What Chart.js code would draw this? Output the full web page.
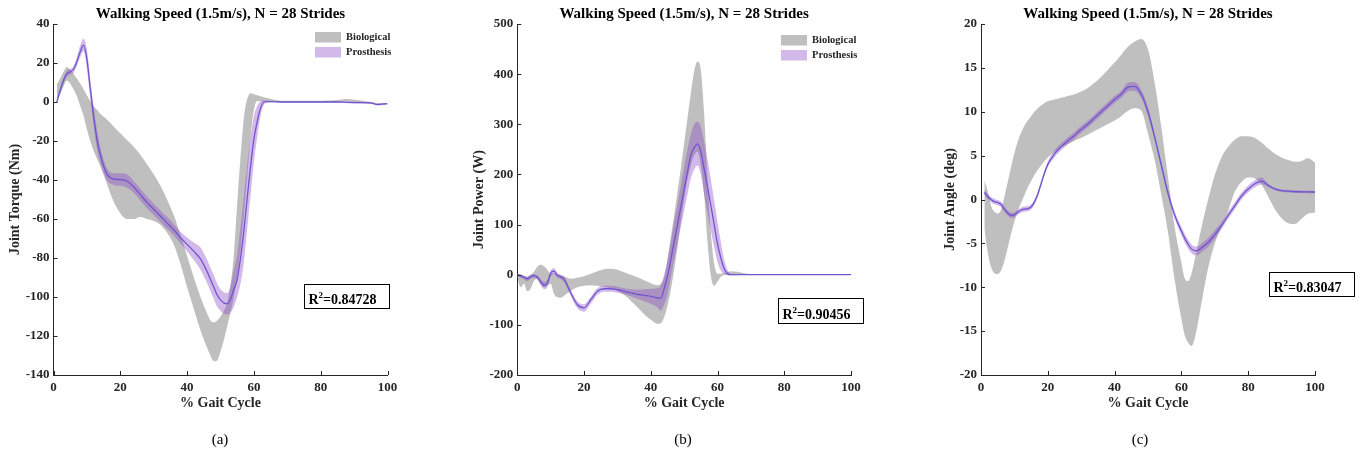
<!DOCTYPE html>
<html>
<head>
<meta charset="utf-8">
<script src="https://cdn.jsdelivr.net/npm/chart.js@4.4.1/dist/chart.umd.min.js"></script>
<style>
  body { margin: 0; background: #fff; width: 1362px; height: 457px; overflow: hidden; position: relative; }
  canvas { position: absolute; top: 0; }
</style>
</head>
<body>
<canvas id="torque" width="460" height="457" style="left:0px;width:460px;height:457px"></canvas>
<canvas id="power" width="460" height="457" style="left:460px;width:460px;height:457px"></canvas>
<canvas id="angle" width="442" height="457" style="left:920px;width:442px;height:457px"></canvas>
<script>
// ---- data (% gait cycle on x) ----

// (a) joint torque (Nm)
const torqueX = [1,2,3,4,5,6,7,8,9,10,11,12,13,14,16,18,20,22,24,26,28,30,32,34,36,38,40,42,44,46,47,48,49,50,51,52,53,54,55,56,57,58,59,60,61,62,63,64,66,68,70,75,80,85,88,90,95,97,100];
const torqueBioUpper = [9,12,15.5,18,16.5,14.5,12,9.5,6.5,3.5,0.5,-2,-4,-6,-9,-12.5,-16,-19.5,-23,-27,-32,-37,-43,-50,-58,-68,-79,-90,-100,-108.5,-112,-113,-112,-110,-107,-103,-94,-78,-52,-28,-8,1.5,4.5,4,3.5,3,2.5,2,1.2,0.7,0.6,0.6,0.7,1,1.5,1.2,0,-0.7,-0.7];
const torqueBioLower = [1,4,8,11,9.5,6.5,3,-2,-7,-14,-20,-25,-29,-33,-42,-51,-57,-60,-60,-59,-60,-61,-63,-67,-73,-83,-95,-106,-117,-126,-130,-133,-132.5,-128,-122,-115,-108,-100,-90,-76,-58,-38,-18,-4,0.5,0.5,0.3,0.2,0,0,0,0,0,0,0.3,0,-0.8,-1.6,-1.2];
const torqueProMean = [0,6,11,14.5,15.5,16.8,20.7,25.8,29.2,22,7,-7,-19,-27,-37,-39.5,-39.8,-40.5,-43.5,-47.5,-51.5,-55,-58.5,-62,-65.5,-69.5,-73,-76.5,-80.5,-87,-91,-95,-99,-101.5,-103,-103.5,-101,-96,-91,-80,-66,-49,-33,-19,-10,-3,0,0.2,0.2,0,0,0,0,0,-0.2,-0.3,-0.5,-1.3,-0.8];
const torqueProUpper = [1,7.5,12.5,16,17,18.5,23,29,32.5,27,12,-2,-14,-23,-34,-36.5,-36.5,-37,-40.5,-44.5,-48.5,-52,-55.5,-59,-62.5,-66.5,-69.5,-72,-74.5,-81,-85,-89,-93,-96,-97.5,-98,-94,-86,-78,-64,-48,-32,-18,-7,-2,0.5,0.8,0.7,0.5,0.3,0.3,0.3,0.3,0.3,0.2,0.1,-0.1,-0.8,-0.4];
const torqueProLower = [-1,4.5,9.5,13,14,15,18.5,23,26,17,2,-12,-24,-31,-40,-42.5,-43,-44,-46.5,-50.5,-54.5,-58,-61.5,-65,-68.5,-72.5,-76.5,-81,-86,-93,-97,-101,-105,-107,-108.5,-109,-108,-105,-100,-93,-82,-65,-48,-31,-18,-7,-1.5,-0.3,-0.1,-0.3,-0.3,-0.3,-0.3,-0.3,-0.6,-0.7,-0.9,-1.8,-1.2];

// (b) joint power (W)
const powerX = [0,1,2,3,4,5,6,7,8,9,10,11,12,13,14,16,18,20,22,24,26,28,30,32,34,36,38,40,42,43,44,45,46,47,48,49,50,51,52,53,54,55,56,57,58,59,60,61,62,63,64,66,68,70,75,80,90,100];
const powerBioUpper = [3,0,-2,-4,0,6,16,20,17,10,2,3,1,-1,-3,-8,-6,-3,2,7,11,12,10,5,0,-5,-11,-17,-21,-18,-5,30,75,118,165,212,262,312,362,405,425,408,320,190,85,22,2,2,3,5,7,6,3,1,0.5,0.5,0.5,0.5];
const powerBioLower = [-5,-25,-18,-33,-28,-12,-8,-18,-25,-22,-18,-38,-45,-46,-42,-32,-25,-22,-21,-22,-24,-27,-32,-40,-52,-65,-79,-90,-98,-97,-85,-62,-30,10,55,105,150,190,218,238,245,218,160,65,-2,-22,-14,-4,0,0.5,1,1,0,-0.5,-0.5,-0.5,-0.5,-0.5];
const powerProMean = [0,-2,-5,-8,-4,-2,-5,-14,-21,-17,3,7,-1,-4,-9,-36,-60,-66,-50,-33,-28,-28,-30,-33,-36,-39,-41,-43,-46,-47,-28,-3,30,65,100,135,170,205,238,253,261,245,210,175,138,100,62,33,12,2,0,0,0,0,0,0,0,0];
const powerProUpper = [2,1,-2,-4,0,1,-1,-8,-14,-10,9,13,4,0,-4,-30,-53,-59,-44,-27,-22,-22,-24,-27,-29,-30,-29,-28,-27,-22,0,30,65,105,140,178,215,250,280,300,305,295,265,230,190,148,105,65,30,10,2,1,0.5,0.5,0.5,0.5,0.5,0.5];
const powerProLower = [-2,-6,-9,-13,-8,-6,-10,-21,-29,-25,-4,1,-6,-9,-15,-42,-67,-74,-58,-40,-34,-34,-36,-39,-43,-48,-53,-58,-65,-72,-60,-40,-5,30,62,95,128,160,192,210,218,200,160,122,88,55,25,8,1,-1,-1,-0.5,-0.5,-0.5,-0.5,-0.5,-0.5,-0.5];

// (c) joint angle (deg)
const angleX = [1,2,3,4,5,6,7,8,9,10,11,12,13,14,15,16,17,18,19,20,22,24,26,28,30,32,34,36,38,40,42,44,46,48,50,52,54,56,58,60,61,62,63,64,65,66,68,70,72,74,76,78,80,82,84,86,88,90,92,94,96,98,100];
const angleBioUpper = [2.2,1.0,-0.7,-1.4,-1.6,-1.2,0.3,2.0,3.7,5.3,6.6,7.6,8.4,9.0,9.5,10.0,10.4,10.7,11.0,11.2,11.4,11.6,11.8,12.0,12.3,12.7,13.3,14.0,14.8,15.6,16.5,17.4,18.0,18.3,17.1,13.3,8.2,2.5,-3.2,-7.2,-9.0,-9.3,-8.5,-6.8,-5.0,-3.2,0,2.8,4.8,6.0,6.8,7.2,7.2,7.0,6.5,5.8,5.2,4.8,4.5,4.3,4.4,4.7,4.2];
const angleBioLower = [-3.3,-6.0,-7.7,-8.4,-8.5,-8.1,-7.0,-5.5,-3.9,-2.5,-1.3,-0.4,0.5,1.4,2.1,2.8,3.4,3.9,4.4,4.8,5.4,5.9,6.3,6.7,7.0,7.4,7.8,8.2,8.6,9.0,9.5,10.1,10.4,10.1,7.5,4.5,0.5,-3.8,-9.2,-13.6,-15.5,-16.3,-16.7,-15.8,-14.0,-11.8,-7.8,-5.0,-3.1,-1.3,0.9,2.0,2.5,2.4,1.7,0.3,-1.1,-2.1,-2.7,-2.8,-2.2,-1.6,-1.5];
const angleProMean = [0.8,0.35,0,-0.25,-0.35,-0.55,-1.1,-1.55,-1.8,-1.75,-1.45,-1.2,-1.1,-1.05,-0.85,-0.3,0.6,1.8,3.0,4.0,5.2,6.0,6.7,7.3,8.0,8.6,9.3,10.0,10.7,11.4,12.0,12.8,12.9,12.0,10.0,7.1,3.9,0.7,-1.8,-3.6,-4.4,-5.1,-5.6,-5.85,-5.8,-5.5,-4.9,-4.0,-3.0,-1.8,-0.7,0.4,1.2,1.8,2.1,1.6,1.2,1.0,0.95,0.9,0.88,0.86,0.85];
const angleProUpper = [1.1,0.65,0.3,0.05,-0.05,-0.25,-0.8,-1.25,-1.5,-1.45,-1.15,-0.9,-0.8,-0.75,-0.55,0,0.9,2.1,3.3,4.3,5.6,6.4,7.1,7.7,8.4,9.0,9.7,10.4,11.1,11.8,12.4,13.3,13.4,12.5,10.5,7.5,4.3,1.1,-1.4,-3.1,-3.9,-4.6,-5.1,-5.35,-5.3,-5.0,-4.4,-3.5,-2.6,-1.4,-0.3,0.8,1.6,2.2,2.5,1.8,1.35,1.15,1.1,1.05,1.03,1.01,1.0];
const angleProLower = [0.5,0.05,-0.3,-0.55,-0.65,-0.85,-1.4,-1.85,-2.1,-2.05,-1.75,-1.5,-1.4,-1.35,-1.15,-0.6,0.3,1.5,2.7,3.7,4.8,5.6,6.3,6.9,7.6,8.2,8.9,9.6,10.3,11.0,11.6,12.3,12.4,11.5,9.5,6.7,3.5,0.3,-2.2,-4.1,-4.9,-5.6,-6.1,-6.35,-6.3,-6.0,-5.4,-4.5,-3.4,-2.2,-1.1,0.0,0.8,1.4,1.7,1.4,1.05,0.85,0.8,0.75,0.73,0.71,0.7];

// ---- styling ----
const FONT = 'Liberation Serif';
const AXIS = '#262626';
const BIO_FILL = 'rgba(128,128,128,0.5)';
const PRO_FILL = 'rgba(140,70,200,0.38)';
const PRO_LINE = '#6f55d0';
const CLEAR = 'rgba(0,0,0,0)';

function pts(xs, ys) {
    return xs.map((x, i) => ({ x: x, y: ys[i] }));
}

// axis ticks pointing inward, title, legend, R^2 box and caption
const panelDeco = {
    id: 'panelDeco',
    afterDraw(chart, args, o) {
        const ctx = chart.ctx;
        const a = chart.chartArea;
        const sx = chart.scales.x, sy = chart.scales.y;
        ctx.save();
        ctx.strokeStyle = AXIS;
        ctx.lineWidth = 1;
        ctx.beginPath();
        sx.ticks.forEach(t => {
            const p = Math.round(sx.getPixelForValue(t.value)) + 0.5;
            ctx.moveTo(p, a.bottom);
            ctx.lineTo(p, a.bottom - 4);
        });
        sy.ticks.forEach(t => {
            const p = Math.round(sy.getPixelForValue(t.value)) + 0.5;
            ctx.moveTo(a.left, p);
            ctx.lineTo(a.left + 4, p);
        });
        ctx.stroke();

        ctx.fillStyle = '#000';
        ctx.textAlign = 'center';
        ctx.textBaseline = 'middle';
        ctx.font = 'bold 15px ' + FONT;
        ctx.fillText(o.title, (a.left + a.right) / 2, 14);
        ctx.font = '15px ' + FONT;
        ctx.fillText(o.caption, o.captionX, 440);

        if (o.legend) {
            const lx = a.left + o.legend[0], ly = a.top + o.legend[1];
            ctx.textAlign = 'left';
            ctx.font = 'bold 10.5px ' + FONT;
            [['Biological', BIO_FILL], ['Prosthesis', PRO_FILL]].forEach((item, i) => {
                const y = ly + i * 15;
                ctx.fillStyle = item[1];
                ctx.fillRect(lx, y, 26, 10.5);
                ctx.fillStyle = AXIS;
                ctx.fillText(item[0], lx + 31, y + 5.5);
            });
        }

        const b = o.r2box;
        const x0 = Math.round(sx.getPixelForValue(b[0])) + 0.5;
        const x1 = Math.round(sx.getPixelForValue(b[1])) + 0.5;
        const y0 = Math.round(sy.getPixelForValue(b[2])) + 0.5;
        const y1 = Math.round(sy.getPixelForValue(b[3])) + 0.5;
        ctx.fillStyle = '#fff';
        ctx.fillRect(x0, y0, x1 - x0, y1 - y0);
        ctx.strokeStyle = '#000';
        ctx.strokeRect(x0, y0, x1 - x0, y1 - y0);
        ctx.fillStyle = '#000';
        ctx.textAlign = 'left';
        ctx.textBaseline = 'alphabetic';
        let tx = x0 + 4;
        const base = y1 - 5;
        ctx.font = 'bold 14px ' + FONT;
        ctx.fillText('R', tx, base);
        tx += ctx.measureText('R').width;
        ctx.font = 'bold 9px ' + FONT;
        ctx.fillText('2', tx, base - 6);
        tx += ctx.measureText('2').width;
        ctx.font = 'bold 14px ' + FONT;
        ctx.fillText('=' + o.r2, tx, base);
        ctx.restore();
    }
};

function makePanel(id, xs, bioLo, bioUp, proLo, proUp, proMean, cfg) {
    const tickFont = { family: FONT, size: 13, weight: 'bold' };
    const labelFont = { family: FONT, size: 14, weight: 'bold' };
    new Chart(document.getElementById(id), {
        type: 'line',
        data: {
            datasets: [
                { data: pts(xs, bioLo), borderColor: CLEAR, borderWidth: 0, pointRadius: 0, fill: false, order: 3 },
                { data: pts(xs, bioUp), borderColor: CLEAR, borderWidth: 0, pointRadius: 0, fill: '-1', backgroundColor: BIO_FILL, order: 3 },
                { data: pts(xs, proLo), borderColor: CLEAR, borderWidth: 0, pointRadius: 0, fill: false, order: 2 },
                { data: pts(xs, proUp), borderColor: CLEAR, borderWidth: 0, pointRadius: 0, fill: '-1', backgroundColor: PRO_FILL, order: 2 },
                { data: pts(xs, proMean), borderColor: PRO_LINE, borderWidth: 1.3, pointRadius: 0, fill: false, order: 1 },
            ],
        },
        options: {
            responsive: false,
            animation: false,
            devicePixelRatio: 1,
            cubicInterpolationMode: 'monotone',
            layout: { padding: { left: 0, right: cfg.padRight, top: 24, bottom: 40 } },
            plugins: {
                legend: { display: false },
                tooltip: { enabled: false },
                panelDeco: cfg.deco,
            },
            scales: {
                x: {
                    type: 'linear',
                    min: 0,
                    max: 100,
                    grid: { display: false, drawTicks: false },
                    border: { display: true, color: AXIS, width: 1 },
                    ticks: { stepSize: 20, padding: 5, font: tickFont, color: AXIS, maxRotation: 0 },
                    title: { display: true, text: '% Gait Cycle', font: labelFont, color: AXIS, padding: { top: 0, bottom: 5.6 } },
                    afterFit: s => { s.height = 42; },
                },
                y: {
                    type: 'linear',
                    min: cfg.yMin,
                    max: cfg.yMax,
                    grid: { display: false, drawTicks: false },
                    border: { display: true, color: AXIS, width: 1 },
                    ticks: { stepSize: cfg.yStep, padding: 4, font: tickFont, color: AXIS },
                    title: { display: true, text: cfg.yTitle, font: labelFont, color: AXIS, padding: { top: cfg.yTitlePad, bottom: 0 } },
                    afterFit: s => { s.width = cfg.yWidth; },
                },
            },
        },
        plugins: [panelDeco],
    });
}

const TITLE = 'Walking Speed (1.5m/s), N = 28 Strides';

makePanel('torque', torqueX, torqueBioLower, torqueBioUpper, torqueProLower, torqueProUpper, torqueProMean, {
    yMin: -140, yMax: 40, yStep: 20, yTitle: 'Joint Torque (Nm)',
    yWidth: 53.5, yTitlePad: 6.6, padRight: 72.5,
    deco: { title: TITLE, caption: '(a)', captionX: 220, legend: [261.5, 8], r2: '0.84728', r2box: [75, 100.5, -93.3, -105.6] },
});

makePanel('power', powerX, powerBioLower, powerBioUpper, powerProLower, powerProUpper, powerProMean, {
    yMin: -200, yMax: 500, yStep: 100, yTitle: 'Joint Power (W)',
    yWidth: 57.3, yTitlePad: 10.6, padRight: 69,
    deco: { title: TITLE, caption: '(b)', captionX: 223, legend: [263.7, 11], r2: '0.90456', r2box: [78.1, 103.7, -47, -95.7] },
});

makePanel('angle', angleX, angleBioLower, angleBioUpper, angleProLower, angleProUpper, angleProMean, {
    yMin: -20, yMax: 20, yStep: 5, yTitle: 'Joint Angle (deg)',
    yWidth: 61, yTitlePad: 21.6, padRight: 47,
    deco: { title: TITLE, caption: '(c)', captionX: 220, legend: null, r2: '0.83047', r2box: [86.3, 111.8, -8.3, -10.96] },
});
</script>
</body>
</html>
